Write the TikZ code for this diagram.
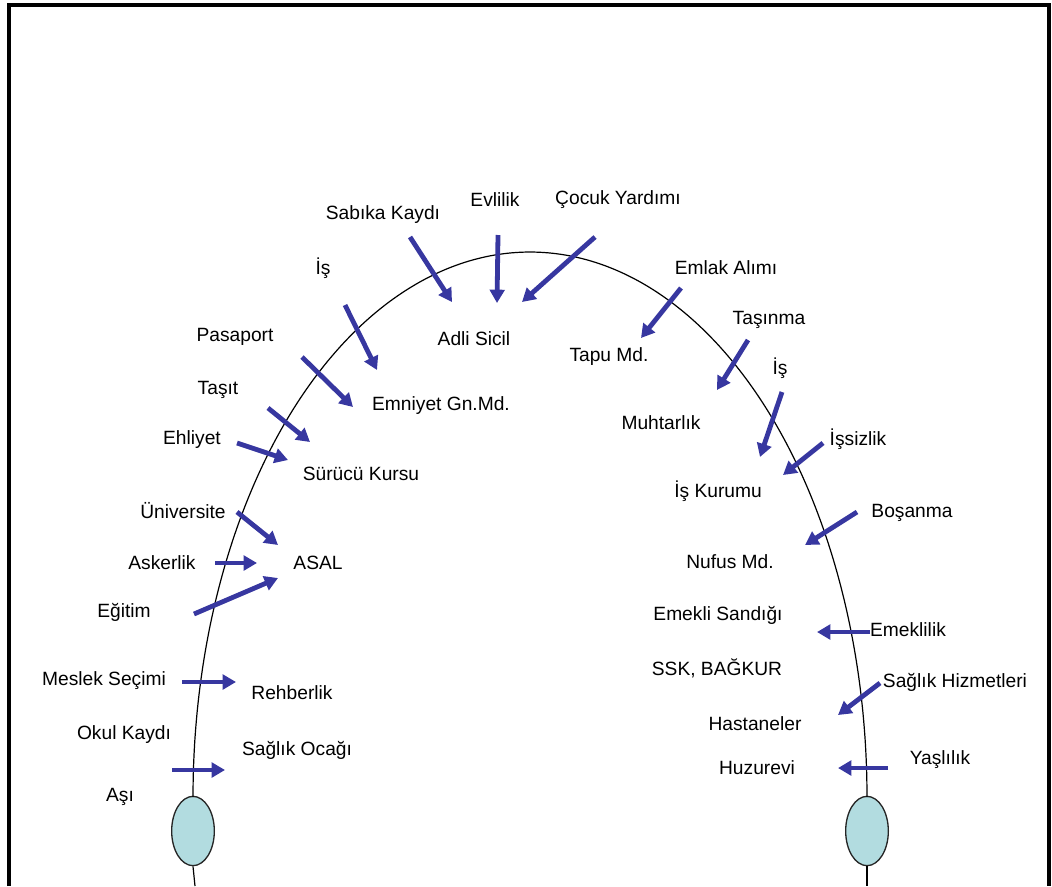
\documentclass[tikz,border=0pt]{standalone}
\usepackage{fontspec}
\setmainfont{Liberation Sans}
\usetikzlibrary{arrows.meta,shapes.geometric}
\definecolor{arrowblue}{RGB}{55,55,160}
\definecolor{bulbfill}{RGB}{178,220,224}
\tikzset{
  lbl/.style={inner sep=0pt, anchor=center, font=\fontsize{14.4pt}{16pt}\selectfont},
  arr/.style={draw=arrowblue, line width=3.6pt, -{Triangle[length=10pt,width=11pt]}},
  bulb/.style={ellipse, draw=black!85, line width=1pt, fill=bulbfill, minimum width=32pt, minimum height=52pt, inner sep=0pt},
  frameline/.style={line width=3pt, black},
  life/.style={line width=0.9pt, black}
}
\begin{document}
\begin{tikzpicture}[x=0.75pt,y=-0.75pt]
\useasboundingbox (0,0) rectangle (1052,886);
% frame
\draw[frameline] (9,886) -- (9,5) -- (1049,5) -- (1049,886);
% circles
\node[bulb] (lc) at (193,831) {};
\node[bulb] (rc) at (867,831) {};
\coordinate (lbot) at (195,886);
\coordinate (rbot) at (867,886);
% life arc
\draw[life] plot[smooth, domain=180:0, samples=120] ({530+337*cos(\x)}, {797-545*sin(\x)});
\draw[life] (lc.south) -- (lbot);
\draw[life] (rc.south) -- (rbot);
% labels
\node[lbl] (sab) at (383,215) {Sabıka Kaydı};
\node[lbl] (evl) at (495,200) {Evlilik};
\node[lbl] (coc) at (618,200) {Çocuk Yardımı};
\node[lbl] (isl) at (323,268) {İş};
\node[lbl] (adli) at (474,339) {Adli Sicil};
\node[lbl] (tapu) at (609,357) {Tapu Md.};
\node[lbl] (emlak) at (726,268) {Emlak Alımı};
\node[lbl] (tasin) at (769,320) {Taşınma};
\node[lbl] (isr) at (780,368) {İş};
\node[lbl] (muht) at (661,423) {Muhtarlık};
\node[lbl] (issiz) at (858,439) {İşsizlik};
\node[lbl] (iskur) at (718,491) {İş Kurumu};
\node[lbl] (bosan) at (912,513) {Boşanma};
\node[lbl] (nufus) at (730,562) {Nufus Md.};
\node[lbl] (emsan) at (718,615) {Emekli Sandığı};
\node[lbl] (emek) at (908,630) {Emeklilik};
\node[lbl] (ssk) at (717,668) {SSK, BAĞKUR};
\node[lbl] (saghiz) at (955,682) {Sağlık Hizmetleri};
\node[lbl] (hast) at (755,724) {Hastaneler};
\node[lbl] (yasl) at (940,760) {Yaşlılık};
\node[lbl] (huzur) at (757,768) {Huzurevi};
\node[lbl] (pasa) at (235,337) {Pasaport};
\node[lbl] (emniy) at (441,406) {Emniyet Gn.Md.};
\node[lbl] (tasit) at (218,390) {Taşıt};
\node[lbl] (ehli) at (192,440) {Ehliyet};
\node[lbl] (surucu) at (361,474) {Sürücü Kursu};
\node[lbl] (univ) at (183,511) {Üniversite};
\node[lbl] (asal) at (318,563) {ASAL};
\node[lbl] (asker) at (162,563) {Askerlik};
\node[lbl] (egit) at (124,612) {Eğitim};
\node[lbl] (mesl) at (104,681) {Meslek Seçimi};
\node[lbl] (rehb) at (292,693) {Rehberlik};
\node[lbl] (okul) at (124,735) {Okul Kaydı};
\node[lbl] (sagoc) at (297,750) {Sağlık Ocağı};
\node[lbl] (asi) at (120,797) {Aşı};
% arrows
\foreach \n/\a/\b in {
  aSab/{410,237}/{452,302},
  aEvl/{498,235}/{497,303},
  aCoc/{595,237}/{522,302},
  aEml/{681,288}/{641,338},
  aTas/{748,340}/{717,390},
  aIsR/{782,392}/{760,457},
  aIss/{823,443}/{783,475},
  aBos/{857,512}/{805,545},
  aEme/{870,632}/{817,632},
  aSag/{880,683}/{838,715},
  aYas/{888,768}/{838,768},
  aIsL/{345,305}/{377,370},
  aPas/{302,357}/{353,407},
  aTst/{268,408}/{310,442},
  aEhl/{237,443}/{288,460},
  aUni/{237,512}/{278,545},
  aAsk/{215,563}/{257,563},
  aEgi/{194,614}/{278,578},
  aMes/{182,682}/{236,682},
  aAsi/{172,770}/{225,770}} {
  \coordinate (\n-s) at (\a);
  \coordinate (\n-e) at (\b);
  \draw[arr] (\n-s) -- (\n-e);
}
\end{tikzpicture}
\end{document}
